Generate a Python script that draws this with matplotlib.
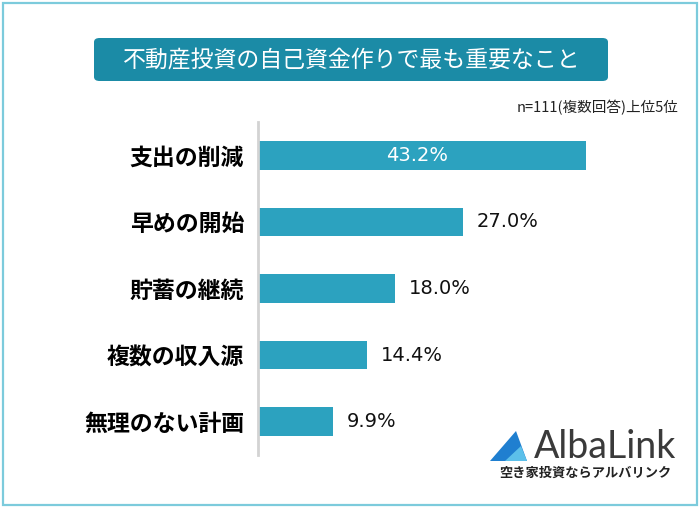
import matplotlib
matplotlib.use("Agg")
import matplotlib.pyplot as plt
from matplotlib.patches import FancyBboxPatch, Rectangle, Polygon

plt.rcParams['font.family'] = ['Noto Sans CJK JP', 'DejaVu Sans']

# データ
categories = ['支出の削減', '早めの開始', '貯蓄の継続', '複数の収入源', '無理のない計画']
values = [43.2, 27.0, 18.0, 14.4, 9.9]
title = '不動産投資の自己資金作りで最も重要なこと'
note = 'n=111(複数回答)上位5位'

W, H = 700, 508
fig = plt.figure(figsize=(W / 100, H / 100), dpi=100)

def fx(x):
    return x / W

def fy(y):
    return 1 - y / H

# 外枠
fig.patches.append(Rectangle((fx(3), fy(505)), fx(694), 502 / H, transform=fig.transFigure,
                             fill=False, edgecolor='#7ccbdc', linewidth=1.6))

# タイトルボックス
fig.patches.append(FancyBboxPatch((fx(94), fy(81)), fx(514), 43 / H,
                                  boxstyle='round,pad=0,rounding_size=0.008',
                                  transform=fig.transFigure, facecolor='#1b8ba6', edgecolor='none'))
fig.text(fx(352), fy(60), title, color='white', fontsize=16.5, ha='center', va='center')
fig.text(fx(678), fy(108), note, color='#222222', fontsize=10.5, ha='right', va='center')

# 棒グラフ
ax = fig.add_axes([fx(258), fy(455), 380 / W, 333 / H])
y = list(range(len(categories)))
ax.barh(y, values, height=0.43, color='#2ca2bf')
ax.set_xlim(0, 50)
ax.set_ylim(len(categories) - 0.5, -0.5)
for s in ['top', 'right', 'bottom']:
    ax.spines[s].set_visible(False)
ax.spines['left'].set_color('#d3d3d3')
ax.spines['left'].set_linewidth(2)
ax.set_xticks([])
ax.set_yticks(y)
ax.set_yticklabels(categories, fontsize=16.5, fontweight='bold')
ax.tick_params(axis='y', length=0, pad=10)

for i, v in enumerate(values):
    if i == 0:
        ax.text(v / 2 - 0.7, i, f'{v:.1f}%', color='white', fontsize=14,
                ha='center', va='center', family='DejaVu Sans')
    else:
        ax.text(v + 1.8, i, f'{v:.1f}%', color='#111111', fontsize=14,
                ha='left', va='center', family='DejaVu Sans')

# ロゴ
fig.patches.append(Polygon([(fx(490), fy(461)), (fx(516), fy(431)), (fx(527), fy(461))],
                           closed=True, transform=fig.transFigure,
                           facecolor='#1f7fd0', edgecolor='none'))
fig.patches.append(Polygon([(fx(505), fy(461)), (fx(521), fy(446)), (fx(527), fy(461))],
                           closed=True, transform=fig.transFigure,
                           facecolor='#5cc0ea', edgecolor='none'))
fig.text(fx(534), fy(447), 'AlbaLink', color='#3a3a3a', fontsize=27,
         ha='left', va='center', family=['Lato', 'DejaVu Sans'])
fig.text(fx(585), fy(473), '空き家投資ならアルバリンク', color='#222222', fontsize=9.5,
         fontweight='bold', ha='center', va='center')

fig.savefig('out.png', dpi=100)
